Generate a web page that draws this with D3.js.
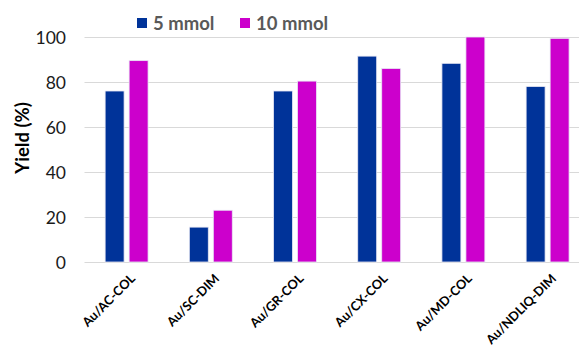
<!DOCTYPE html>
<html>
<head>
<meta charset="utf-8">
<script src="https://cdn.jsdelivr.net/npm/d3@7/dist/d3.min.js"></script>
<style>
  html, body { margin: 0; padding: 0; background: #fff; }
  svg { display: block; font-family: Lato, "Open Sans", sans-serif; }
</style>
</head>
<body>
<svg id="chart" width="579" height="348"></svg>
<script>
// Catalyst yields at two substrate loadings
const categories = ["Au/AC-COL", "Au/SC-DIM", "Au/GR-COL", "Au/CX-COL", "Au/MD-COL", "Au/NDLIQ-DIM"];
const seriesNames = ["5 mmol", "10 mmol"];
const yield5 = [76, 15.5, 76, 91.5, 88.3, 78];
const yield10 = [89.5, 23, 80.4, 86, 100, 99.4];
const yTicks = [0, 20, 40, 60, 80, 100];
const colors = ["#003399", "#cc00cc"];

const svg = d3.select("#chart");
const margin = { left: 84.5, top: 37 };
const bandStep = 84.2;

const x = d3.scaleBand()
  .domain(categories)
  .range([margin.left, margin.left + bandStep * categories.length])
  .paddingInner(0).paddingOuter(0);

const xInner = d3.scaleBand()
  .domain(seriesNames)
  .range([0, x.bandwidth()])
  .paddingInner(0.21).paddingOuter(0.86);

const y = d3.scaleLinear().domain([0, 100]).range([262, margin.top]);

// horizontal gridlines
svg.append("g")
  .selectAll("line")
  .data(yTicks)
  .join("line")
  .attr("x1", margin.left)
  .attr("x2", 579)
  .attr("y1", d => Math.round(y(d)) + 0.5)
  .attr("y2", d => Math.round(y(d)) + 0.5)
  .attr("stroke", "#d9d9d9")
  .attr("stroke-width", 1);

// y axis tick labels
const yAxis = d3.axisLeft(y).tickValues(yTicks).tickSize(0).tickPadding(0);
const gy = svg.append("g").attr("transform", "translate(66,0)").call(yAxis);
gy.select(".domain").remove();
gy.selectAll("text")
  .attr("font-family", "Lato, sans-serif")
  .attr("font-size", 17.5)
  .attr("fill", "#1a1a1a")
  .attr("dy", "0.36em");

// bars
const rows = categories.map((c, i) => ({ cat: c, vals: [yield5[i], yield10[i]] }));
const groups = svg.append("g")
  .selectAll("g")
  .data(rows)
  .join("g")
  .attr("transform", d => `translate(${x(d.cat)},0)`);

groups.selectAll("rect")
  .data(d => d.vals.map((v, j) => ({ key: seriesNames[j], v, j })))
  .join("rect")
  .attr("x", d => xInner(d.key))
  .attr("width", xInner.bandwidth())
  .attr("y", d => y(d.v))
  .attr("height", d => y(0) - y(d.v))
  .attr("fill", d => colors[d.j])
  .attr("stroke", "#e8e8f4")
  .attr("stroke-width", 0.8);

// category labels, rotated
svg.append("g")
  .selectAll("text")
  .data(categories)
  .join("text")
  .attr("transform", d => `translate(${x(d) + x.bandwidth() / 2 + 3},273) rotate(-45)`)
  .attr("text-anchor", "end")
  .attr("dy", "0.7em")
  .attr("font-size", 12.8)
  .attr("font-weight", "bold")
  .attr("fill", "#000")
  .text(d => d);

// y axis title
svg.append("text")
  .attr("transform", "translate(23,138) rotate(-90)")
  .attr("text-anchor", "middle")
  .attr("dy", "0.35em")
  .attr("font-size", 18.5)
  .attr("font-weight", "bold")
  .attr("fill", "#000")
  .text("Yield (%)");

// legend
const legendX = [137, 240];
const legend = svg.append("g")
  .selectAll("g")
  .data(seriesNames)
  .join("g")
  .attr("transform", (d, i) => `translate(${legendX[i]},18)`);
legend.append("rect")
  .attr("width", 10).attr("height", 10)
  .attr("fill", (d, i) => colors[i]);
legend.append("text")
  .attr("x", 16).attr("y", 5)
  .attr("dy", "0.36em")
  .attr("font-size", 18.5)
  .attr("font-weight", "bold")
  .attr("fill", "#595959")
  .text(d => d);
</script>
</body>
</html>
